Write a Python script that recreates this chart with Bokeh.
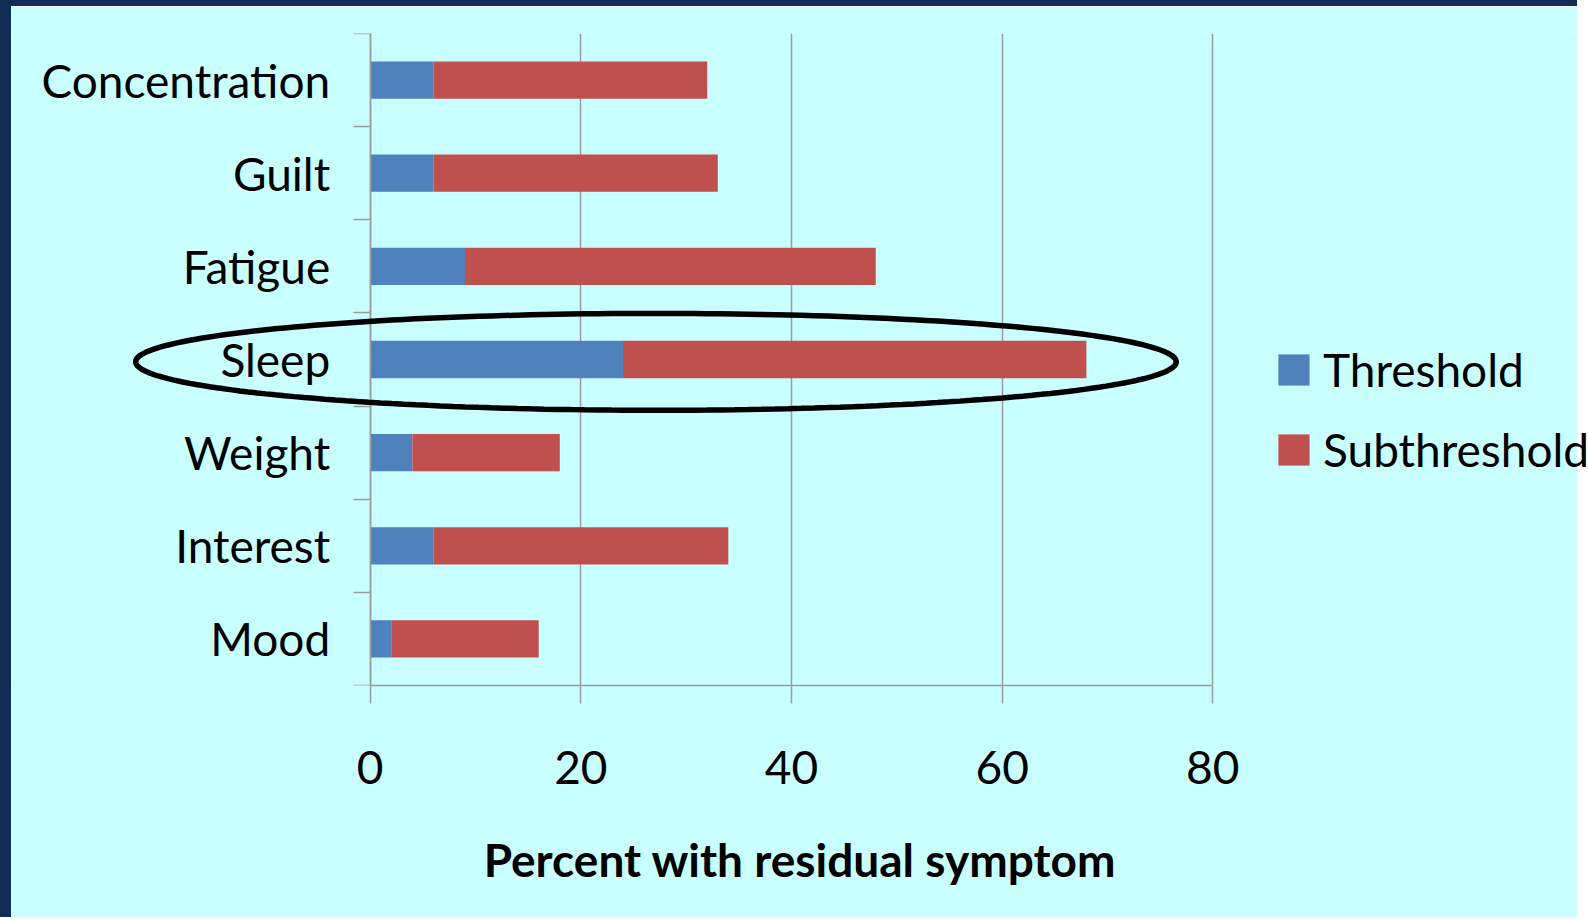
import numpy as np
from bokeh.plotting import figure
from bokeh.models import (FactorRange, Range1d, LinearAxis, CategoricalAxis, FixedTicker,
                          Legend, LegendItem, PolyAnnotation, ColumnDataSource)
from bokeh.embed import file_html
from bokeh.resources import INLINE

# ---- data ----
symptoms = ["Concentration", "Guilt", "Fatigue", "Sleep", "Weight", "Interest", "Mood"]
threshold = [6, 6, 9, 24, 4, 6, 2]
subthreshold = [26, 27, 39, 44, 14, 28, 14]
series = ["Threshold", "Subthreshold"]
colors = ["#4F81BD", "#C0504D"]
x_ticks = [0, 20, 40, 60, 80]
x_title = "Percent with residual symptom"
highlight = "Sleep"

# ---- style / layout ----
FONT = "Lato"
FS = "46px"
BG = "#CAFFFF"
NAVY = "#102D55"
GRID = "#9B9B9B"
W, H = 1577, 917            # canvas size (plus 11px left / 6px top navy border)
X0_PX = 358.7               # canvas px where x = 0
PX_PER_UNIT = 10.5325       # px per percent
x_lo = -X0_PX / PX_PER_UNIT
x_hi = (W - X0_PX) / PX_PER_UNIT

factors = symptoms[::-1]
src = ColumnDataSource(dict(symptom=symptoms, Threshold=threshold, Subthreshold=subthreshold))

p = figure(width=W, height=H,
           y_range=FactorRange(factors=factors, range_padding=0),
           x_range=Range1d(x_lo, x_hi),
           output_backend="svg", toolbar_location=None,
           y_axis_location=None,
           min_border_left=0, min_border_right=0,
           min_border_top=27, min_border_bottom=238)
p.styles = {"border-left": f"11px solid {NAVY}", "border-top": f"6px solid {NAVY}"}
p.background_fill_color = BG
p.border_fill_color = BG
p.outline_line_color = None
p.ygrid.visible = False

# x axis
xa = p.xaxis[0]
xa.ticker = FixedTicker(ticks=x_ticks)
xa.bounds = (x_ticks[0], x_ticks[-1])
xa.major_tick_out = 18
xa.major_tick_in = 0
xa.minor_tick_line_color = None
xa.axis_line_color = GRID
xa.axis_line_width = 1.5
xa.major_tick_line_color = GRID
xa.major_tick_line_width = 1.5
xa.major_label_text_font = FONT
xa.major_label_text_font_size = FS
xa.major_label_text_color = "black"
xa.major_label_standoff = 47
xa.axis_label = x_title
xa.axis_label_text_font = FONT
xa.axis_label_text_font_size = FS
xa.axis_label_text_font_style = "bold"
xa.axis_label_text_color = "black"
xa.axis_label_standoff = 45

p.xgrid.ticker = FixedTicker(ticks=x_ticks)
p.xgrid.grid_line_color = GRID
p.xgrid.grid_line_width = 1.5

# category boundary ticks, fixed at x = 0
baxis = LinearAxis(fixed_location=0, ticker=FixedTicker(ticks=list(range(len(symptoms) + 1))),
                   major_tick_out=17, major_tick_in=0,
                   minor_tick_line_color=None,
                   major_label_text_font_size="0px", major_label_standoff=0,
                   axis_line_color=GRID, axis_line_width=1.5,
                   major_tick_line_color=GRID, major_tick_line_width=1.5)
p.add_layout(baxis, "left")

# category labels, fixed at x = 0
laxis = CategoricalAxis(fixed_location=0, major_tick_out=0, major_tick_in=0, axis_line_color=None,
                        major_tick_line_color=None, major_label_standoff=40,
                        major_label_text_font=FONT, major_label_text_font_size=FS,
                        major_label_text_color="black")
p.add_layout(laxis, "left")

# bars
rs = p.hbar_stack(series, y="symptom", height=0.4, color=colors, line_color=None, source=src)

legend = Legend(items=[LegendItem(label=s, renderers=[r]) for s, r in zip(series, rs)],
                location=(1263, 208), glyph_width=39, glyph_height=39, label_standoff=10,
                label_text_font=FONT, label_text_font_size=FS, label_text_color="black",
                spacing=25, padding=0, margin=0, border_line_color=None,
                background_fill_alpha=0)
p.add_layout(legend, "center")

# highlight ellipse around Sleep
ell_cx, ell_w, ell_h, ell_dy = 27.13, 98.8, 1.04, -0.025
t = np.linspace(0, 2 * np.pi, 240)
cy = factors.index(highlight) + 0.5 + ell_dy
xs = ell_cx + ell_w / 2 * np.cos(t)
ys = cy + ell_h / 2 * np.sin(t)
p.add_layout(PolyAnnotation(xs=list(xs), ys=list(ys), fill_alpha=0,
                            line_color="black", line_alpha=1.0, line_width=5.5))

open("out.html", "w").write(file_html(p, INLINE))
